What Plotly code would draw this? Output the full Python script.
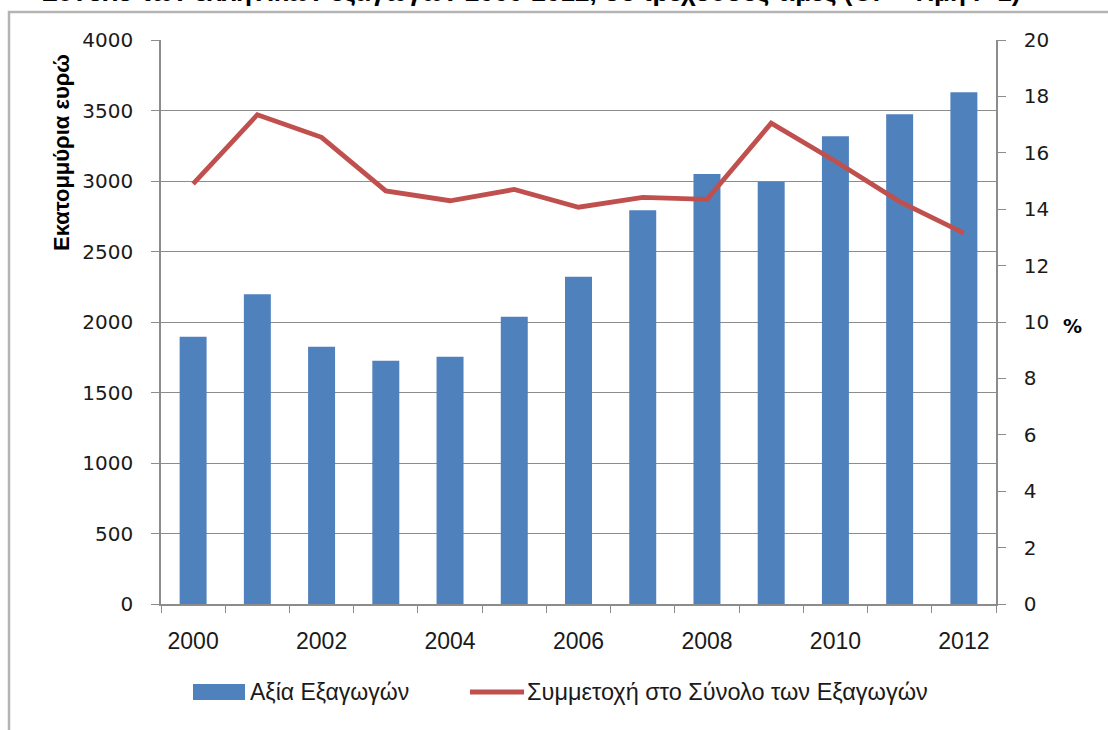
import plotly.graph_objects as go

years = list(range(2000, 2013))
export_value = [1896, 2196, 1825, 1726, 1754, 2038, 2321, 2792, 3050, 2995, 3317, 3473, 3629]
share_pct = [14.9, 17.35, 16.55, 14.65, 14.3, 14.7, 14.07, 14.42, 14.35, 17.05, 15.7, 14.27, 13.15]

bar_name = "Αξία Εξαγωγών"
line_name = "Συμμετοχή στο Σύνολο των Εξαγωγών"
left_title = "Εκατομμύρια ευρώ"
right_title = "%"
top_title = "Σύνολο των ελληνικών εξαγωγών 2000-2012, σε τρέχουσες τιμές (ΟΓ - Τιμή Γ-1)"

W, H = 1108, 730
L, R, T, B = 161, 112, 40, 126
pw, ph = W - L - R, H - T - B

def px_x(x):
    return (x - L) / pw

def px_y(y):
    return (H - B - y) / ph

bar_color = "#4f81bd"
line_color = "#c0504d"
grid = "#8c8c8c"
tickfont = dict(family="DejaVu Sans", size=20, color="#1a1a1a")
textfont = dict(family="Liberation Sans", size=23, color="#1a1a1a")

fig = go.Figure()
fig.add_trace(go.Bar(x=years, y=export_value, name=bar_name, marker=dict(color=bar_color, line=dict(width=0)),
                     width=0.42, yaxis="y", showlegend=False))
fig.add_trace(go.Scatter(x=years, y=share_pct, name=line_name, mode="lines",
                         line=dict(color=line_color, width=4.8), yaxis="y2", showlegend=False))

fig.update_layout(
    width=W, height=H,
    margin=dict(l=L, r=R, t=T, b=B, autoexpand=False),
    paper_bgcolor="white", plot_bgcolor="white",
    showlegend=False,
    xaxis=dict(range=[1999.5, 2012.5], tickmode="array", tickvals=years[::2], ticklen=0,
               tickfont=textfont,
               showgrid=False, zeroline=False, showline=True, linecolor=grid, linewidth=1.5,
               ticklabelstandoff=16,
               minor=dict(tickmode="array", tickvals=[y - 0.5 for y in years] + [2012.5],
                          ticks="outside", ticklen=7, tickcolor=grid, showgrid=False)),
    yaxis=dict(range=[0, 4000], dtick=500, tickformat="d", showgrid=True, gridcolor=grid, gridwidth=1,
               zeroline=False, showline=True, linecolor=grid, linewidth=1.5,
               ticks="outside", ticklen=8, tickcolor=grid, tickfont=tickfont, ticklabelstandoff=14),
    yaxis2=dict(range=[0, 20], dtick=2, overlaying="y", side="right", showgrid=False, zeroline=False,
                showline=True, linecolor=grid, linewidth=1.5, ticks="outside", ticklen=8, tickcolor=grid,
                tickfont=tickfont, ticklabelstandoff=14),
)

# axis titles
fig.add_annotation(text="<b>" + left_title + "</b>", textangle=-90, xref="paper", yref="paper",
                   x=px_x(61), y=px_y(153), xanchor="center", yanchor="middle", showarrow=False,
                   font=dict(family="Liberation Sans", size=22, color="black"))
fig.add_annotation(text="<b>" + right_title + "</b>", xref="paper", yref="paper",
                   x=px_x(1061), y=px_y(326), xanchor="left", yanchor="middle", showarrow=False,
                   font=dict(family="DejaVu Sans", size=19, color="black"))
# cropped chart title at top
fig.add_annotation(text="<b>" + top_title + "</b>", xref="paper", yref="paper",
                   x=px_x(40), y=px_y(-8), xanchor="left", yanchor="middle", showarrow=False,
                   font=dict(family="Liberation Sans", size=26, color="black"))

# legend (drawn manually to match the wide Excel-style keys)
leg_y = 692
fig.add_shape(type="rect", xref="paper", yref="paper", x0=px_x(193), x1=px_x(245),
              y0=px_y(leg_y + 8), y1=px_y(leg_y - 8), fillcolor=bar_color, line=dict(width=0))
fig.add_annotation(text=bar_name, xref="paper", yref="paper", x=px_x(248), y=px_y(leg_y),
                   xanchor="left", yanchor="middle", showarrow=False, font=textfont)
fig.add_shape(type="line", xref="paper", yref="paper", x0=px_x(470), x1=px_x(524),
              y0=px_y(leg_y), y1=px_y(leg_y), line=dict(color=line_color, width=4.8))
fig.add_annotation(text=line_name, xref="paper", yref="paper", x=px_x(525), y=px_y(leg_y),
                   xanchor="left", yanchor="middle", showarrow=False,
                   font=dict(family="Liberation Sans", size=23.5, color="#1a1a1a"))

# outer chart frame
fig.add_shape(type="rect", xref="paper", yref="paper", x0=px_x(9), x1=px_x(1130), y0=px_y(750), y1=px_y(12),
              line=dict(color="#b4b4b4", width=2.5), layer="below")

fig.write_html("out.html", config={"displayModeBar": False},
               post_script="document.body.style.margin='0px';")
